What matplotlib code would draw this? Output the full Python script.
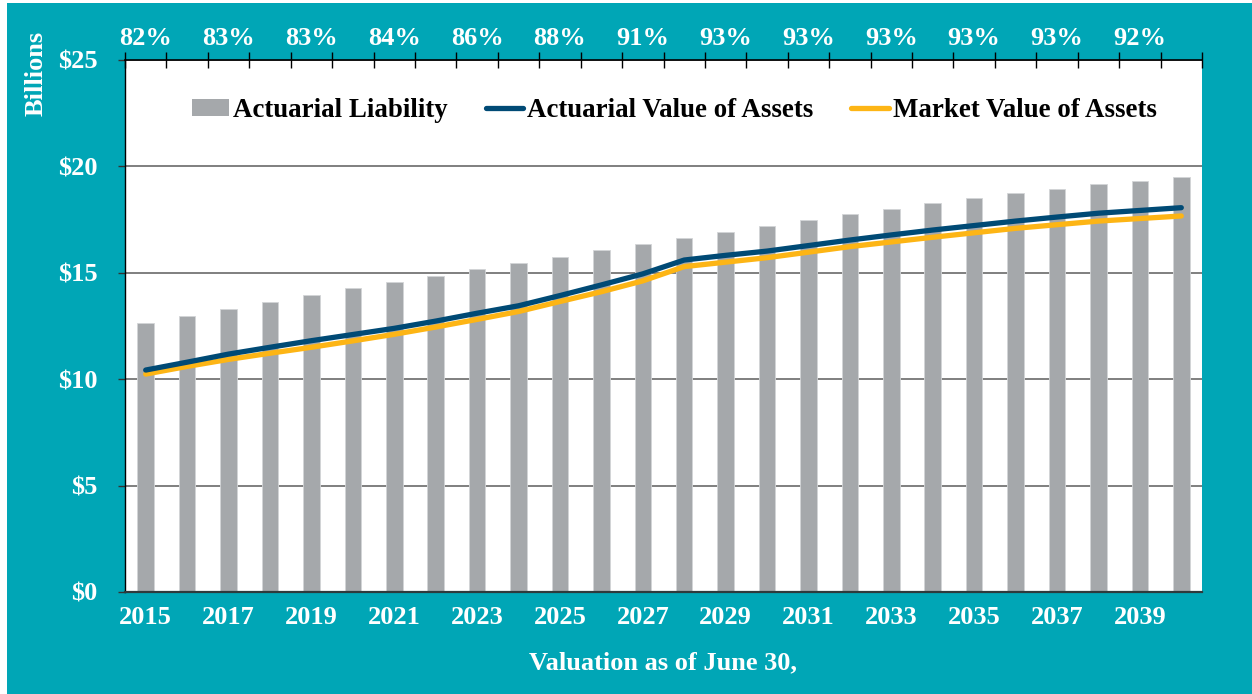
import numpy as np
import matplotlib
matplotlib.use("Agg")
import matplotlib.pyplot as plt
from matplotlib.patches import Rectangle, Patch
from matplotlib.lines import Line2D

TEAL = '#00A6B6'
GRAY = '#A5A8AB'
NAVY = '#004A75'
GOLD = '#FDB515'

years = list(range(2015, 2041))
liability = [12.63, 12.98, 13.31, 13.63, 13.96, 14.27, 14.57, 14.86, 15.18, 15.46, 15.74, 16.07, 16.35,
             16.64, 16.93, 17.21, 17.50, 17.76, 18.01, 18.28, 18.51, 18.73, 18.95, 19.16, 19.33, 19.49]
ava = [10.43, 10.80, 11.18, 11.50, 11.81, 12.10, 12.39, 12.73, 13.10, 13.45, 13.93, 14.43, 14.95,
       15.60, 15.82, 16.02, 16.28, 16.54, 16.78, 17.01, 17.22, 17.43, 17.62, 17.80, 17.93, 18.06]
mva = [10.24, 10.60, 10.93, 11.22, 11.50, 11.80, 12.11, 12.45, 12.81, 13.18, 13.65, 14.11, 14.62,
       15.29, 15.50, 15.71, 15.97, 16.23, 16.45, 16.67, 16.88, 17.09, 17.26, 17.43, 17.55, 17.67]
funded = ['82%', '83%', '83%', '84%', '86%', '88%', '91%', '93%', '93%', '93%', '93%', '93%', '92%']
yticks = [0, 5, 10, 15, 20, 25]
ylabels = ['$0', '$5', '$10', '$15', '$20', '$25']

plt.rcParams['font.family'] = ['Liberation Serif', 'DejaVu Serif']
plt.rcParams['font.weight'] = 'bold'
FS = 19

fig = plt.figure(figsize=(12.52, 6.94), dpi=100)
fig.patch.set_facecolor('white')
fig.patches.append(Rectangle((7 / 1252, 0), 1 - 7 / 1252, 1 - 3 / 694, transform=fig.transFigure,
                             facecolor=TEAL, edgecolor='none', zorder=-10))

ax = fig.add_axes([125 / 1252, 102 / 694, 1077 / 1252, 532 / 694])
ax.set_facecolor('white')
x = np.arange(len(years))

ax.bar(x, liability, width=0.4, color=GRAY, edgecolor='#D3D5D7', linewidth=0.6, zorder=2)
ax.plot(x, ava, color=NAVY, lw=3.8, solid_capstyle='round', zorder=4)
ax.plot(x, mva, color=GOLD, lw=3.8, solid_capstyle='round', zorder=3)

ax.set_xlim(-0.5, len(years) - 0.5)
ax.set_ylim(0, 25)
ax.set_yticks(yticks)
ax.set_yticklabels(ylabels)
ax.yaxis.grid(True, color='#7F7F7F', lw=1.4, zorder=0)
ax.set_axisbelow(True)
ax.tick_params(axis='y', direction='out', length=5, width=1, color='#333333', pad=15,
               labelsize=FS, labelcolor='white')
ax.set_xticks(x[::2])
ax.set_xticklabels([str(y) for y in years[::2]])
ax.tick_params(axis='x', length=0, pad=10, labelsize=FS, labelcolor='white')

for s in ['right', 'top']:
    ax.spines[s].set_visible(False)
ax.spines['left'].set_color('black')
ax.spines['left'].set_linewidth(1.0)
ax.spines['bottom'].set_color('#2F3A3C')
ax.spines['bottom'].set_linewidth(1.6)

# top axis with funded ratios
top = ax.twiny()
top.set_xlim(ax.get_xlim())
for s in ['right', 'left', 'bottom']:
    top.spines[s].set_visible(False)
top.spines['top'].set_color('black')
top.spines['top'].set_linewidth(1.2)
top.set_xticks(np.arange(-0.5, len(years), 1.0))
top.set_xticklabels([])
top.tick_params(axis='x', which='major', direction='inout', length=11, width=1, color='black')
top.set_xticks(x[::2], minor=True)
top.set_xticklabels(funded, minor=True)
top.tick_params(axis='x', which='minor', length=0, pad=7, labelsize=FS, labelcolor='white')

handles = [Patch(facecolor=GRAY, edgecolor='none'),
           Line2D([0], [0], color=NAVY, lw=3.8, solid_capstyle='round'),
           Line2D([0], [0], color=GOLD, lw=3.8, solid_capstyle='round')]
ax.legend(handles, ['Actuarial Liability', 'Actuarial Value of Assets', 'Market Value of Assets'],
          loc='center', bbox_to_anchor=(0.51, 0.905), ncol=3, frameon=False, fontsize=19.4,
          handlelength=1.4, handleheight=0.55, handletextpad=0.15, columnspacing=1.4)

fig.text(663 / 1252, 1 - 663 / 694, 'Valuation as of June 30,', ha='center', va='center',
         color='white', fontsize=FS, fontweight='bold')
fig.text(36 / 1252, 1 - 73 / 694, 'Billions', ha='center', va='center', rotation=90,
         color='white', fontsize=FS, fontweight='bold')

fig.savefig('out.png', dpi=100, facecolor=fig.get_facecolor())
